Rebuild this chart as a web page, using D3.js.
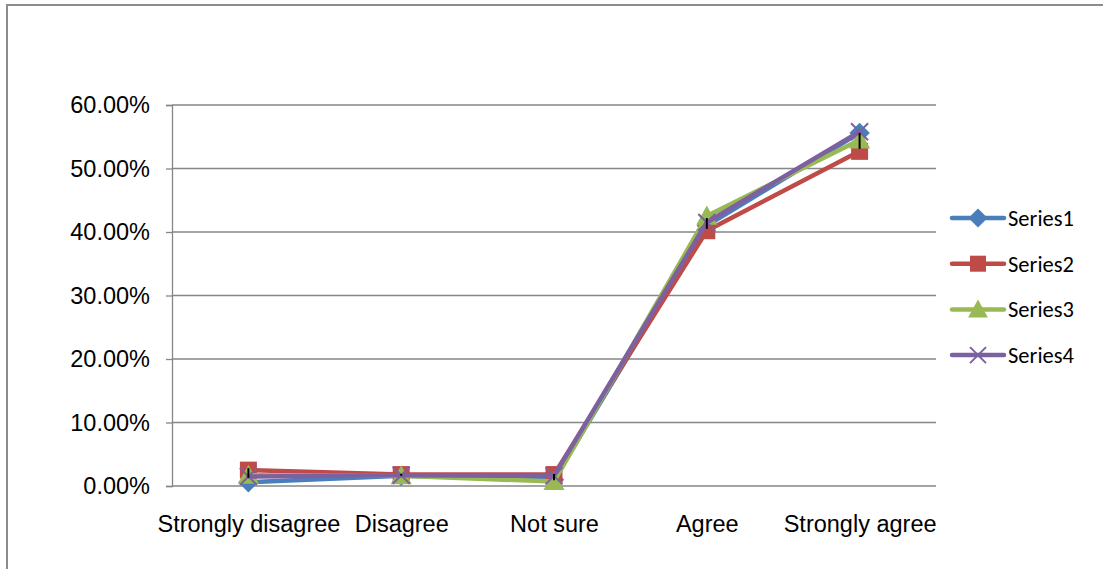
<!DOCTYPE html>
<html>
<head>
<meta charset="utf-8">
<script src="https://cdn.jsdelivr.net/npm/d3@7"></script>
<style>
  html, body { margin: 0; padding: 0; background: #fff; }
  svg { display: block; }
</style>
</head>
<body>
<svg id="chart" width="1103" height="569"></svg>
<script>
// Response categories along the x axis
const categories = ["Strongly disagree", "Disagree", "Not sure", "Agree", "Strongly agree"];

// Share of responses per series (fractions)
const series1 = [0.006, 0.016, 0.010, 0.410, 0.556];
const series2 = [0.025, 0.018, 0.018, 0.402, 0.527];
const series3 = [0.017, 0.016, 0.007, 0.425, 0.545];
const series4 = [0.015, 0.017, 0.016, 0.415, 0.558];

// Error bar extents (low, high) per category
const errLow  = [0.013, 0.016, 0.009, 0.405, 0.531];
const errHigh = [0.028, 0.019, 0.019, 0.422, 0.556];

const seriesNames = ["Series1", "Series2", "Series3", "Series4"];
const yTicks = [0, 0.1, 0.2, 0.3, 0.4, 0.5, 0.6];

const colors = ["#4A7EBB", "#BE4B48", "#98B954", "#7D60A0"];
const markerTypes = ["diamond", "square", "triangle", "cross"];
const allSeries = [series1, series2, series3, series4];

const svg = d3.select("#chart");

// Outer chart frame
svg.append("path")
  .attr("d", "M7,575 L7,5 L1110,5")
  .attr("fill", "none")
  .attr("stroke", "#8c8c8c")
  .attr("stroke-width", 2);

const plot = { left: 172, right: 936, top: 105, bottom: 486 };

const x = d3.scalePoint()
  .domain(categories)
  .range([plot.left, plot.right])
  .padding(0.5);

const y = d3.scaleLinear()
  .domain([0, 0.6])
  .range([plot.bottom, plot.top]);

// Horizontal gridlines
svg.append("g")
  .selectAll("line")
  .data(yTicks)
  .join("line")
  .attr("x1", plot.left)
  .attr("x2", plot.right)
  .attr("y1", d => y(d))
  .attr("y2", d => y(d))
  .attr("stroke", "#868686")
  .attr("stroke-width", 1.3);

const axisFont = "'Liberation Sans', Arial, sans-serif";

// Y axis
const yAxis = d3.axisLeft(y)
  .tickValues(yTicks)
  .tickFormat(d => (d * 100).toFixed(2) + "%")
  .tickSize(6)
  .tickPadding(16);

const yg = svg.append("g")
  .attr("transform", `translate(${plot.left},0)`)
  .call(yAxis);
yg.select(".domain").attr("stroke", "#868686").attr("stroke-width", 1.3);
yg.selectAll(".tick line").attr("stroke", "#868686").attr("stroke-width", 1.3);
yg.selectAll(".tick text")
  .attr("fill", "#000")
  .style("font-family", axisFont)
  .style("font-size", "23.5px");

// X axis labels
const xAxis = d3.axisBottom(x).tickSize(0).tickPadding(29);
const xg = svg.append("g")
  .attr("transform", `translate(0,${plot.bottom})`)
  .call(xAxis);
xg.select(".domain").remove();
xg.selectAll(".tick text")
  .attr("fill", "#000")
  .style("font-family", axisFont)
  .style("font-size", "23.5px");

// Marker drawing
function drawMarker(g, type, color, cx, cy, s) {
  if (type === "diamond") {
    g.append("path")
      .attr("d", `M${cx},${cy - s * 0.6} L${cx + s * 0.6},${cy} L${cx},${cy + s * 0.6} L${cx - s * 0.6},${cy} Z`)
      .attr("fill", color);
  } else if (type === "square") {
    g.append("rect")
      .attr("x", cx - s / 2).attr("y", cy - s / 2)
      .attr("width", s).attr("height", s)
      .attr("fill", color);
  } else if (type === "triangle") {
    g.append("path")
      .attr("d", `M${cx},${cy - s * 0.62} L${cx + s * 0.62},${cy + s * 0.5} L${cx - s * 0.62},${cy + s * 0.5} Z`)
      .attr("fill", color);
  } else {
    const h = s * 0.5;
    g.append("path")
      .attr("d", `M${cx - h},${cy - h} L${cx + h},${cy + h} M${cx - h},${cy + h} L${cx + h},${cy - h}`)
      .attr("stroke", color)
      .attr("stroke-width", 2);
  }
}

const line = d3.line()
  .x((d, i) => x(categories[i]))
  .y(d => y(d));

const marks = svg.append("g");
allSeries.forEach((vals, si) => {
  marks.append("path")
    .datum(vals)
    .attr("d", line)
    .attr("fill", "none")
    .attr("stroke", colors[si])
    .attr("stroke-width", 4.5)
    .attr("stroke-linejoin", "round")
    .attr("stroke-linecap", "round");
  vals.forEach((v, i) => {
    drawMarker(marks, markerTypes[si], colors[si], x(categories[i]), y(v), 17);
  });
});

// Error bars
svg.append("g")
  .selectAll("line")
  .data(categories)
  .join("line")
  .attr("x1", d => x(d))
  .attr("x2", d => x(d))
  .attr("y1", (d, i) => y(errLow[i]))
  .attr("y2", (d, i) => y(errHigh[i]))
  .attr("stroke", "#000")
  .attr("stroke-width", 2);

// Legend
const legend = svg.append("g");
seriesNames.forEach((name, i) => {
  const ly = 218 + i * 45.7;
  legend.append("line")
    .attr("x1", 952).attr("x2", 1004)
    .attr("y1", ly).attr("y2", ly)
    .attr("stroke", colors[i])
    .attr("stroke-width", 4.5)
    .attr("stroke-linecap", "round");
  drawMarker(legend, markerTypes[i], colors[i], 978, ly, 16);
  legend.append("text")
    .attr("x", 1008)
    .attr("y", ly)
    .attr("dy", "0.35em")
    .attr("fill", "#000")
    .style("font-family", "Carlito, Lato, 'Open Sans', sans-serif")
    .style("font-size", "22.5px")
    .text(name);
});
</script>
</body>
</html>
